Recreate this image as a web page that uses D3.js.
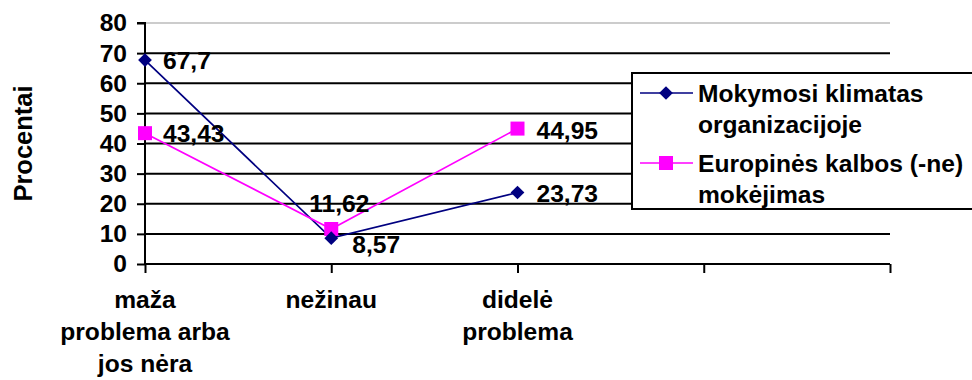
<!DOCTYPE html>
<html>
<head>
<meta charset="utf-8">
<script src="https://cdn.jsdelivr.net/npm/d3@7"></script>
<style>
  body { margin: 0; background: #fff; }
  svg { font-family: Arial, "Liberation Sans", sans-serif; font-weight: bold; }
</style>
</head>
<body>
<svg id="chart" width="972" height="380"></svg>
<script>
// data
const categories = ["maža|problema arba|jos nėra", "nežinau", "didelė|problema", "", " "];
const seriesNames = ["Mokymosi klimatas|organizacijoje", "Europinės kalbos (-ne)|mokėjimas"];
const climate = [67.7, 8.57, 23.73];
const languages = [43.43, 11.62, 44.95];
const yTicks = [0, 10, 20, 30, 40, 50, 60, 70, 80];

const svg = d3.select("#chart");
const margin = {top: 23, right: 82, bottom: 116, left: 145},
    width = 972 - margin.left - margin.right,
    height = 380 - margin.top - margin.bottom,
    fontSize = "24.6px";

const x = d3.scalePoint().domain(categories).range([0, width]);
const y = d3.scaleLinear().domain([0, 80]).range([height, 0]);

const g = svg.append("g").attr("transform", `translate(${margin.left},${margin.top})`);

// gridlines
g.selectAll(".grid").data(yTicks.filter(d => d > 0)).enter().append("line")
    .attr("x1", 0).attr("x2", width)
    .attr("y1", d => y(d)).attr("y2", d => y(d))
    .attr("stroke", d => d === 80 ? "#ccc" : "#000")
    .attr("stroke-width", 2);

// y axis
const yAxis = g.append("g").call(d3.axisLeft(y).tickValues(yTicks).tickSize(8).tickPadding(10));
yAxis.select(".domain").attr("stroke-width", 2).attr("d", `M-8,${y(80)}H0V${height}`);
yAxis.selectAll(".tick line").attr("stroke-width", 2);
yAxis.selectAll("text").style("font-size", fontSize).style("font-weight", "bold").attr("fill", "#000")
    .style("font-family", "Arial, 'Liberation Sans', sans-serif");

// x axis
const xAxis = g.append("g").attr("transform", `translate(0,${height})`)
    .call(d3.axisBottom(x).tickSize(9).tickFormat(""));
xAxis.select(".domain").attr("stroke-width", 2).attr("d", `M0,0H${width}`);
xAxis.selectAll(".tick line").attr("stroke-width", 2);

// category labels
categories.forEach(c => {
    const lines = c.trim() ? c.split("|") : [];
    const t = g.append("text")
        .attr("x", x(c)).attr("y", height + 44)
        .attr("text-anchor", "middle")
        .style("font-size", fontSize);
    lines.forEach((l, i) => t.append("tspan").attr("x", x(c)).attr("dy", i ? 32 : 0).text(l));
});

// axis title
svg.append("text")
    .attr("transform", `translate(32,${margin.top + y(40)}) rotate(-90)`)
    .attr("text-anchor", "middle")
    .style("font-size", "25.5px")
    .text("Procentai");

const line = d3.line().x((d, i) => x(categories[i])).y(d => y(d));

// series 1: climate
g.append("path").datum(climate).attr("d", line)
    .attr("fill", "none").attr("stroke", "#000080").attr("stroke-width", 1.7);
// series 2: languages
g.append("path").datum(languages).attr("d", line)
    .attr("fill", "none").attr("stroke", "#ff00ff").attr("stroke-width", 1.7);

g.selectAll(".sq").data(languages).enter().append("rect")
    .attr("x", (d, i) => x(categories[i]) - 7)
    .attr("y", d => y(d) - 7)
    .attr("width", 14).attr("height", 14)
    .attr("fill", "#ff00ff");

g.selectAll(".dia").data(climate).enter().append("path")
    .attr("d", d3.symbol(d3.symbolDiamond2, 120))
    .attr("transform", (d, i) => `translate(${x(categories[i])},${y(d)})`)
    .attr("fill", "#000080");

// data labels
const fmt = v => String(v).replace(".", ",");
const labelOffsets = {
    climate: [[18, 9], [21, 15], [19, 9]],
    languages: [[18, 9], [-22, -17], [19, 10]]
};
climate.forEach((v, i) => {
    g.append("text").attr("x", x(categories[i]) + labelOffsets.climate[i][0])
        .attr("y", y(v) + labelOffsets.climate[i][1])
        .style("font-size", fontSize).text(fmt(v));
});
languages.forEach((v, i) => {
    g.append("text").attr("x", x(categories[i]) + labelOffsets.languages[i][0])
        .attr("y", y(v) + labelOffsets.languages[i][1])
        .style("font-size", fontSize).text(fmt(v));
});

// legend
const legend = svg.append("g").attr("transform", "translate(632,73)");
legend.append("rect").attr("x", 0).attr("y", 0).attr("width", 350).attr("height", 136)
    .attr("fill", "#fff").attr("stroke", "#000").attr("stroke-width", 2);
const legendColors = ["#000080", "#ff00ff"];
seriesNames.forEach((name, i) => {
    const ly = 20 + i * 70;
    legend.append("line").attr("x1", 8).attr("x2", 61).attr("y1", ly).attr("y2", ly)
        .attr("stroke", legendColors[i]).attr("stroke-width", 1.7);
    if (i === 0) {
        legend.append("path").attr("d", d3.symbol(d3.symbolDiamond2, 120))
            .attr("transform", `translate(34,${ly})`).attr("fill", legendColors[i]);
    } else {
        legend.append("rect").attr("x", 27).attr("y", ly - 7).attr("width", 14).attr("height", 14)
            .attr("fill", legendColors[i]);
    }
    const t = legend.append("text").attr("x", 66).attr("y", ly + 9).style("font-size", fontSize);
    name.split("|").forEach((l, j) => t.append("tspan").attr("x", 66).attr("dy", j ? 31 : 0).text(l));
});
</script>
</body>
</html>
